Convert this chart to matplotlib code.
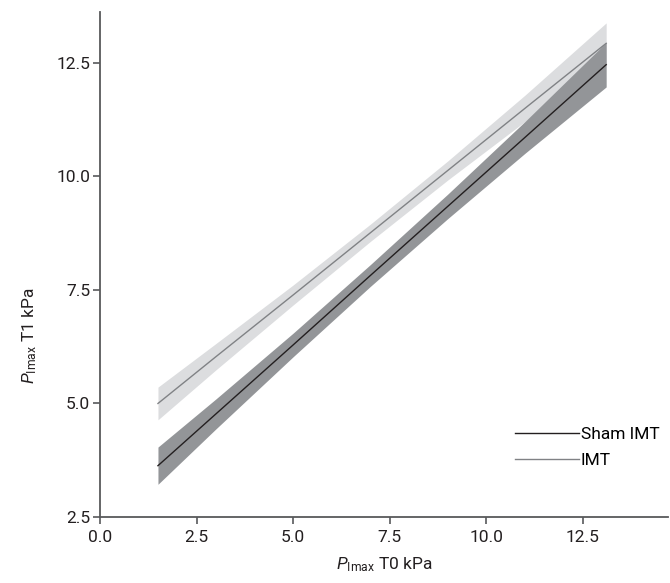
import matplotlib
matplotlib.use("Agg")
import matplotlib.pyplot as plt
import numpy as np

plt.rcParams['font.family'] = ['Roboto', 'DejaVu Sans']
plt.rcParams['mathtext.fontset'] = 'custom'
plt.rcParams['mathtext.rm'] = 'Roboto'
plt.rcParams['mathtext.it'] = 'Roboto:italic'

# values
x_pts = [1.5, 3.0, 5.0, 7.0, 9.0, 11.0, 13.1]

sham_fit = [3.63, 4.77, 6.29, 7.82, 9.34, 10.86, 12.46]
sham_lo = [3.22, 4.44, 6.03, 7.58, 9.07, 10.51, 11.97]
sham_hi = [4.04, 5.10, 6.55, 8.06, 9.61, 11.21, 12.95]

imt_fit = [5.00, 6.03, 7.39, 8.76, 10.13, 11.50, 12.93]
imt_lo = [4.64, 5.74, 7.17, 8.57, 9.92, 11.21, 12.48]
imt_hi = [5.36, 6.32, 7.61, 8.95, 10.34, 11.79, 13.38]

xticks = [0.0, 2.5, 5.0, 7.5, 10.0, 12.5]
yticks = [2.5, 5.0, 7.5, 10.0, 12.5]

axis_col = '#58595b'

fig = plt.figure(figsize=(6.7, 5.83), dpi=100)
ax = fig.add_axes([100 / 670, 66 / 583, 568 / 670, 505 / 583])

ax.fill_between(x_pts, imt_lo, imt_hi, color='#dcdddf', lw=0, zorder=1)
ax.fill_between(x_pts, sham_lo, sham_hi, color='#939598', lw=0, zorder=2)
ax.plot(x_pts, imt_fit, color='#808285', lw=1.0, zorder=3, label='IMT')
ax.plot(x_pts, sham_fit, color='#231f20', lw=1.0, zorder=4, label='Sham IMT')

ax.set_xlim(0, 14.7)
ax.set_ylim(2.5, 13.62)
ax.set_xticks(xticks)
ax.set_yticks(yticks)
ax.set_xticklabels([f'{v:.1f}' for v in xticks], fontsize=12.5)
ax.set_yticklabels([f'{v:.1f}' for v in yticks], fontsize=12.5)

for s in ['top', 'right']:
    ax.spines[s].set_visible(False)
for s in ['left', 'bottom']:
    ax.spines[s].set_color(axis_col)
    ax.spines[s].set_linewidth(1.3)
ax.tick_params(colors=axis_col, labelcolor='#231f20', length=5, width=1.2)
ax.tick_params(axis='x', pad=4)
ax.tick_params(axis='y', pad=2)

ax.set_xlabel(r'$\it{P}$$_{\mathrm{Imax}}$ T0 kPa', fontsize=12.5, color='#231f20',
              labelpad=8)
ax.set_ylabel(r'$\it{P}$$_{\mathrm{Imax}}$ T1 kPa', fontsize=12.5, color='#231f20')
ax.yaxis.set_label_coords(-0.107, 0.36)

handles, labels = ax.get_legend_handles_labels()
ax.legend(handles[::-1], labels[::-1], loc='center left', bbox_to_anchor=(0.73, 0.138),
          frameon=False, fontsize=12.5, handlelength=3.7,
          handletextpad=0.1, labelspacing=0.6, borderpad=0, borderaxespad=0)

fig.savefig('out.png', dpi=100)
